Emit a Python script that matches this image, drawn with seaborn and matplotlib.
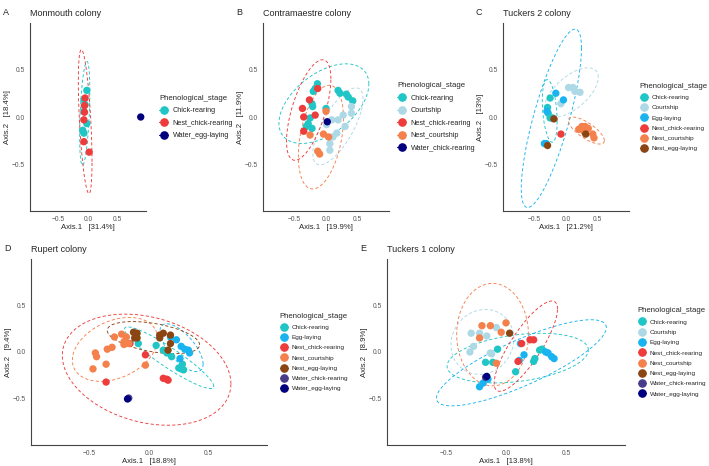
import numpy as np
import pandas as pd
import matplotlib
matplotlib.use("Agg")
import matplotlib.pyplot as plt
from matplotlib.lines import Line2D
import seaborn as sns

sns.set_style("white")
plt.rcParams["font.family"] = ["Liberation Sans", "DejaVu Sans"]

# colour per phenological stage (shared by all panels)
palette = {
    "Chick-rearing": "#20C5C6",
    "Courtship": "#ADD8E6",
    "Egg-laying": "#19B4F0",
    "Nest_chick-rearing": "#EE3B3B",
    "Nest_courtship": "#F4804C",
    "Nest_egg-laying": "#8B4513",
    "Water_chick-rearing": "#483D8B",
    "Water_egg-laying": "#00007F",
}
# panel B draws its water group in navy
palette_b = dict(palette, **{"Water_chick-rearing": "#00007F"})

# PCoA coordinates (Axis.1, Axis.2)
monmouth = {
    "Chick-rearing": [(-0.02, 0.28), (-0.07, 0.18), (-0.05, 0.13), (-0.07, 0.06),
                      (-0.02, -0.07), (-0.09, -0.14), (-0.07, -0.17)],
    "Nest_chick-rearing": [(-0.05, 0.20), (-0.06, 0.12), (-0.06, 0.05), (-0.07, -0.03),
                           (-0.07, -0.26), (0.02, -0.37)],
    "Water_egg-laying": [(0.90, 0.0)],
}

contramaestre = {
    "Chick-rearing": [(-0.135, 0.35), (-0.17, 0.30), (-0.20, 0.27), (-0.22, 0.14),
                      (-0.21, 0.11), (-0.25, -0.01), (-0.28, -0.07), (-0.31, -0.10),
                      (-0.22, -0.12), (0.0, 0.09), (0.19, 0.28), (0.22, 0.25),
                      (0.32, 0.24), (0.35, 0.21), (0.42, 0.17)],
    "Courtship": [(0.40, 0.11), (0.40, 0.04), (0.27, 0.02), (0.19, -0.03), (0.09, -0.03),
                  (0.01, -0.08), (0.30, -0.10), (0.17, -0.17), (0.11, -0.21),
                  (0.06, -0.28), (0.06, -0.35)],
    "Nest_chick-rearing": [(-0.13, 0.30), (-0.26, 0.18), (-0.37, 0.09), (-0.35, 0.0),
                           (-0.17, 0.02), (-0.35, -0.15)],
    "Nest_courtship": [(0.0, 0.06), (-0.25, -0.19), (-0.04, -0.18), (0.04, -0.21),
                       (-0.13, -0.36), (-0.10, -0.39)],
    "Water_chick-rearing": [(0.02, -0.05)],
}

tuckers2 = {
    "Chick-rearing": [(-0.25, 0.20), (-0.29, 0.10), (-0.28, 0.04), (-0.25, -0.01),
                      (-0.21, -0.01)],
    "Courtship": [(0.04, 0.31), (0.11, 0.31), (0.14, 0.27), (0.22, 0.26), (-0.08, 0.14)],
    "Egg-laying": [(-0.16, 0.25), (-0.04, 0.18), (-0.30, 0.06), (-0.34, -0.28),
                   (-0.31, -0.28)],
    "Nest_chick-rearing": [(-0.08, -0.18)],
    "Nest_courtship": [(0.20, -0.13), (0.25, -0.10), (0.30, -0.10), (0.35, -0.12),
                       (0.42, -0.18), (0.44, -0.22), (0.28, -0.15)],
    "Nest_egg-laying": [(0.31, -0.18), (-0.19, -0.02), (-0.29, -0.30)],
}

rupert = {
    "Chick-rearing": [(-0.09, 0.09), (0.06, 0.07), (0.12, 0.02), (0.15, -0.01),
                      (0.19, -0.05), (0.25, -0.17), (0.27, -0.18), (0.28, -0.13),
                      (0.29, -0.19)],
    "Egg-laying": [(0.18, 0.16), (0.23, 0.13), (0.27, 0.06), (0.30, 0.03), (0.33, 0.02),
                   (0.34, -0.01), (0.26, -0.07)],
    "Nest_chick-rearing": [(-0.16, 0.09), (-0.03, -0.03), (-0.36, -0.32), (0.12, -0.28),
                           (0.15, -0.29), (0.16, -0.30)],
    "Nest_courtship": [(-0.45, -0.01), (-0.44, -0.05), (-0.47, -0.18), (-0.36, -0.13),
                       (-0.35, 0.03), (-0.31, 0.05), (-0.29, 0.16), (-0.23, 0.19),
                       (-0.19, 0.16), (-0.21, 0.11), (-0.17, 0.09), (-0.21, 0.08),
                       (-0.03, -0.14)],
    "Nest_egg-laying": [(-0.13, 0.21), (-0.10, 0.20), (-0.12, 0.15), (-0.10, 0.15),
                        (0.09, 0.18), (0.12, 0.20), (0.09, 0.15), (0.18, 0.09),
                        (0.16, 0.02), (0.18, 0.18)],
    "Water_chick-rearing": [(-0.17, -0.49)],
    "Water_egg-laying": [(-0.18, -0.50)],
}

tuckers1 = {
    "Chick-rearing": [(-0.07, 0.03), (-0.17, -0.11), (-0.11, -0.11), (0.08, -0.21),
                      (0.23, -0.10), (0.24, -0.07), (0.28, 0.02), (0.30, 0.03)],
    "Courtship": [(-0.29, 0.20), (-0.22, 0.20), (-0.16, 0.17), (-0.27, 0.06),
                  (-0.30, 0.0), (-0.13, -0.01), (-0.08, 0.26), (-0.12, -0.02)],
    "Egg-laying": [(0.12, 0.09), (0.11, -0.09), (0.15, -0.03), (0.33, 0.0), (0.35, -0.01),
                   (0.38, -0.05), (0.40, -0.07), (-0.22, -0.37), (-0.19, -0.33),
                   (-0.15, -0.29)],
    "Nest_chick-rearing": [(0.20, 0.13), (0.23, 0.13), (0.10, -0.10), (0.13, 0.09)],
    "Nest_courtship": [(-0.20, 0.28), (-0.13, 0.28), (0.0, 0.31), (-0.04, 0.21),
                       (-0.08, -0.12), (-0.22, 0.15)],
    "Nest_egg-laying": [(0.03, 0.20)],
    "Water_chick-rearing": [(-0.17, -0.27)],
    "Water_egg-laying": [(-0.16, -0.26)],
}

# letter, title, data, axis %, palette, pixel box, legend label size, legend gap
panels = [
    ("A", "Monmouth colony", monmouth, "31.4%", "18.4%", palette,
     (30, 23, 146, 211), 5.2, 10),
    ("B", "Contramaestre colony", contramaestre, "19.9%", "11.9%", palette_b,
     (263, 23, 389, 211), 5.2, 5),
    ("C", "Tuckers 2 colony", tuckers2, "21.2%", "13%", palette,
     (503, 23, 629, 211), 4.6, 8),
    ("D", "Rupert colony", rupert, "18.8%", "9.4%", palette,
     (31, 259, 267, 445), 4.6, 10),
    ("E", "Tuckers 1 colony", tuckers1, "13.8%", "8.9%", palette,
     (387, 259, 625, 445), 4.6, 10),
]

W, H = 709, 466
fig = plt.figure(figsize=(W / 100, H / 100), dpi=100)


def stat_ellipse(x, y, level=0.95, n=100):
    # same construction as ggplot2::stat_ellipse (plain covariance instead of cov.trob)
    pts = np.column_stack([x, y])
    k = len(pts)
    center = pts.mean(axis=0)
    cov = np.cov(pts, rowvar=False)
    m = k - 1
    fq = (m / 2) * ((1 - level) ** (-2 / m) - 1)  # F(2, m) quantile
    radius = np.sqrt(2 * fq)
    t = np.linspace(0, 2 * np.pi, n)
    circle = np.column_stack([np.cos(t), np.sin(t)])
    R = np.linalg.cholesky(cov + np.eye(2) * 1e-9).T
    return center + radius * circle @ R


for letter, title, groups, ax1, ax2, pal, (x0, y0, x1, y1), lsize, gap in panels:
    ax = fig.add_axes([x0 / W, 1 - y1 / H, (x1 - x0) / W, (y1 - y0) / H])
    rows = [(g, px, py) for g, pts in groups.items() for px, py in pts]
    df = pd.DataFrame(rows, columns=["Phenological_stage", "Axis.1", "Axis.2"])
    order = sorted(groups.keys())

    for g in order:
        sub = df[df["Phenological_stage"] == g]
        if len(sub) >= 4:
            e = stat_ellipse(sub["Axis.1"].values, sub["Axis.2"].values)
            ax.plot(e[:, 0], e[:, 1], ls=(0, (3.5, 2.5)), lw=0.65, color=pal[g], zorder=1)

    sns.scatterplot(data=df, x="Axis.1", y="Axis.2", hue="Phenological_stage",
                    hue_order=order, palette=pal, s=28, linewidth=0, ax=ax, zorder=2,
                    legend=False)

    ax.set_xlim(-0.99, 0.99)
    ax.set_ylim(-0.99, 0.99)
    ax.set_xticks([-0.5, 0.0, 0.5])
    ax.set_yticks([-0.5, 0.0, 0.5])
    ax.tick_params(labelsize=4.8, length=2, width=0.5, color="#555555",
                   labelcolor="#555555", pad=1.5)
    for side in ["top", "right"]:
        ax.spines[side].set_visible(False)
    for side in ["left", "bottom"]:
        ax.spines[side].set_color("#444444")
        ax.spines[side].set_linewidth(0.8)
    ax.set_xlabel(f"Axis.1   [{ax1}]", fontsize=5.6, labelpad=1)
    ax.set_ylabel(f"Axis.2   [{ax2}]", fontsize=5.6, labelpad=1)
    ax.set_title(title, loc="left", fontsize=6.5, pad=5)

    # ggplot-style keys: point with a short ellipse line through it
    handles = [Line2D([0], [0], color=pal[g], marker="o", markersize=5.2, lw=0.8,
                      ls="-") for g in order]
    leg = ax.legend(handles, order, title="Phenological_stage", loc="center left",
                    bbox_to_anchor=(1.0 + gap / (x1 - x0), 0.5), frameon=False,
                    fontsize=lsize, title_fontsize=5.6, handlelength=1.3,
                    handletextpad=0.6, labelspacing=0.75, borderaxespad=0)
    leg._legend_box.align = "left"

    fig.text((x0 - 27) / W, 1 - (y0 - 15) / H, letter, fontsize=6.5, va="top", ha="left")

fig.savefig("out.png", dpi=100)
